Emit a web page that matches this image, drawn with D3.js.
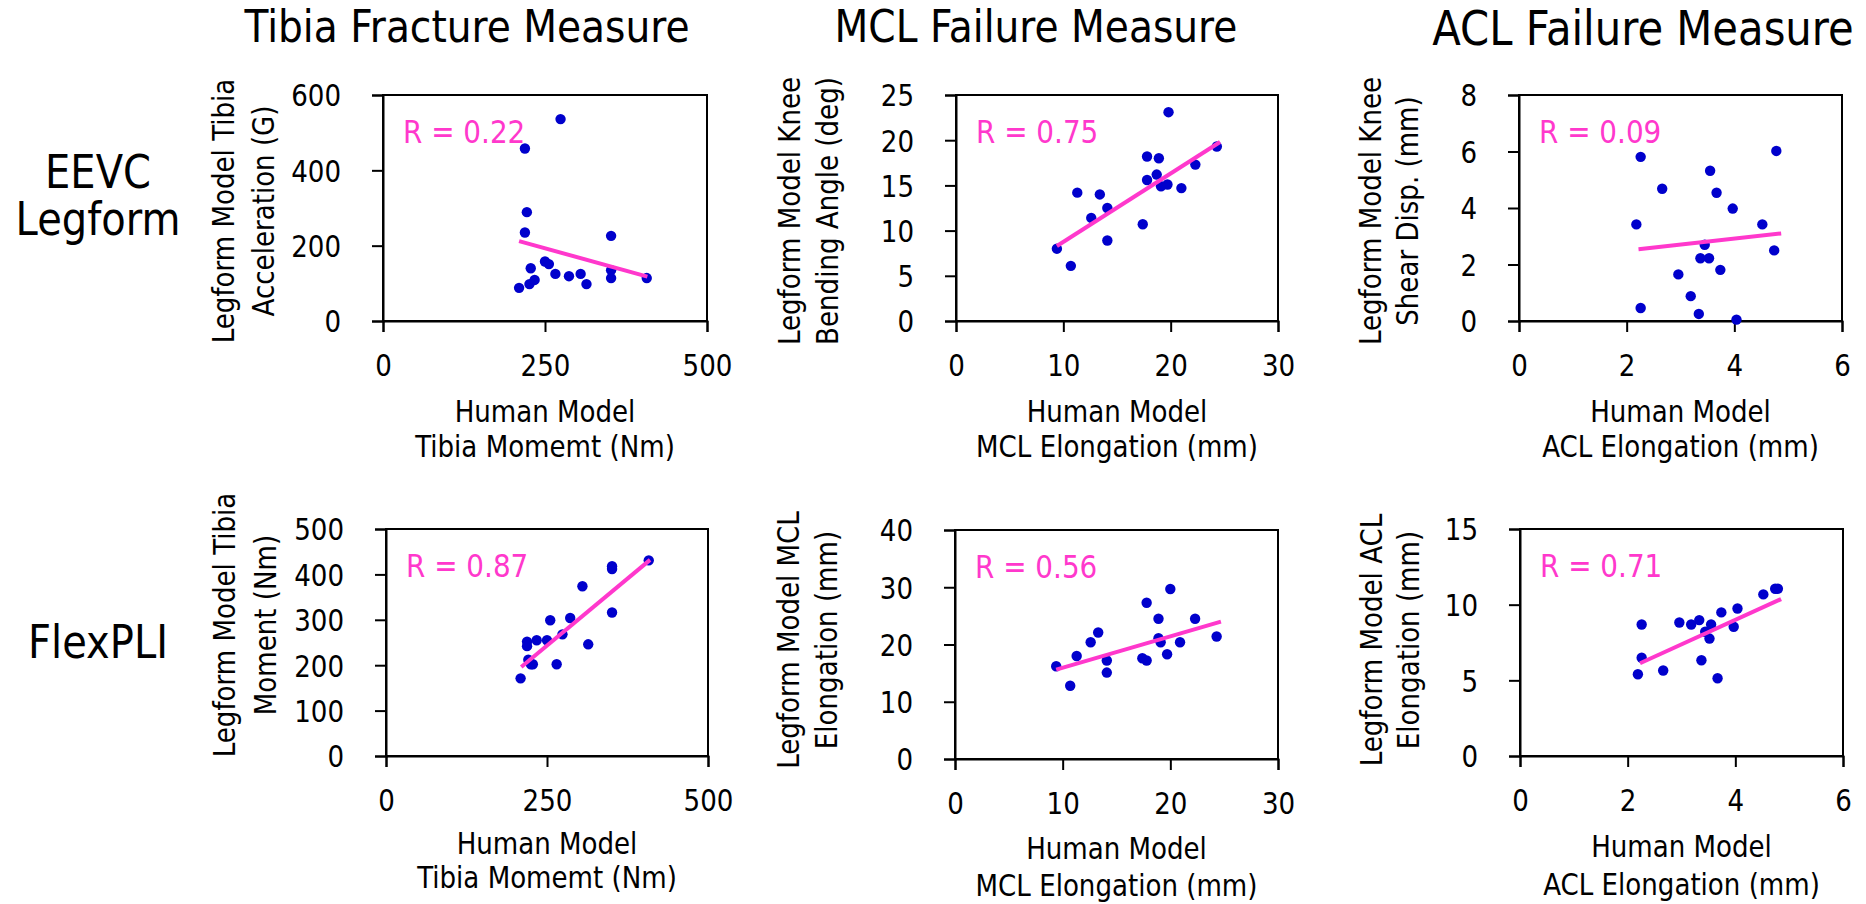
<!DOCTYPE html>
<html>
<head>
<meta charset="utf-8">
<script src="https://cdn.jsdelivr.net/npm/d3@7"></script>
<style>
  body { margin: 0; background: #fff; }
  text { font-family: "DejaVu Sans", Verdana, sans-serif; }
</style>
</head>
<body>
<svg id="chart" width="1866" height="904"></svg>
<script>
// column / row headings
const colTitles = ['Tibia Fracture Measure', 'MCL Failure Measure', 'ACL Failure Measure'];
const rowTitles = [['EEVC', 'Legform'], ['FlexPLI']];

// tibia: EEVC legform
const tibiaEevcX = [274, 219, 222, 219, 352, 250, 256, 228, 266, 287, 305, 314, 352, 352, 407, 234, 226, 210];
const tibiaEevcY = [536, 458, 289, 235, 226, 158, 151, 140, 125, 119, 125, 98, 135, 114, 114, 109, 98, 88];
const tibiaEevcFit = [210, 212, 408, 118];

// tibia: FlexPLI
const tibiaFlexX = [408, 351, 351, 305, 351, 255, 286, 274, 234, 250, 219, 219, 314, 221, 228, 265, 209, 225];
const tibiaFlexY = [431, 418, 412, 374, 316, 299, 304, 268, 255, 255, 252, 242, 246, 212, 202, 202, 171, 202];
const tibiaFlexFit = [210, 196, 410, 432];

// MCL: EEVC legform
const mclEevcX = [19.8, 24.3, 17.8, 18.9, 22.3, 18.7, 17.8, 19.1, 19.7, 21.0, 11.3, 13.4, 14.1, 12.6, 17.4, 14.1, 9.4, 10.7];
const mclEevcY = [23.1, 19.3, 18.2, 18.0, 17.3, 16.2, 15.6, 14.9, 15.1, 14.7, 14.2, 14.0, 12.5, 11.4, 10.7, 8.9, 8.0, 6.1];
const mclEevcFit = [9.4, 8.3, 24.6, 19.8];

// MCL: FlexPLI
const mclFlexX = [20.0, 17.8, 18.9, 22.3, 13.3, 12.6, 18.9, 19.1, 20.9, 24.3, 19.7, 11.3, 14.1, 17.4, 17.8, 9.4, 14.1, 10.7];
const mclFlexY = [29.7, 27.3, 24.5, 24.5, 22.1, 20.4, 21.1, 20.4, 20.4, 21.4, 18.3, 18.0, 17.2, 17.6, 17.2, 16.2, 15.1, 12.8];
const mclFlexFit = [9.4, 15.6, 24.7, 24.0];

// ACL: EEVC legform
const aclEevcX = [4.78, 2.26, 3.55, 2.66, 3.67, 3.97, 2.18, 4.52, 4.74, 3.45, 3.37, 3.53, 3.74, 2.96, 3.19, 2.26, 3.34, 4.04];
const aclEevcY = [6.02, 5.81, 5.32, 4.68, 4.54, 3.98, 3.42, 3.42, 2.50, 2.70, 2.22, 2.22, 1.81, 1.65, 0.88, 0.46, 0.25, 0.05];
const aclEevcFit = [2.22, 2.54, 4.87, 3.10];

// ACL: FlexPLI
const aclFlexX = [4.74, 4.79, 4.52, 4.04, 3.74, 3.33, 2.96, 3.18, 3.55, 2.26, 3.97, 3.44, 3.52, 2.26, 3.37, 2.66, 2.19, 3.67];
const aclFlexY = [11.05, 11.05, 10.68, 9.75, 9.49, 8.98, 8.82, 8.69, 8.69, 8.69, 8.54, 8.21, 7.76, 6.49, 6.33, 5.65, 5.40, 5.14];
const aclFlexFit = [2.23, 6.13, 4.85, 10.37];

// correlation labels
const rLabels = ['R = 0.22', 'R = 0.75', 'R = 0.09', 'R = 0.87', 'R = 0.56', 'R = 0.71'];

// axis ticks
const tibiaTicks = [0, 250, 500];
const mclTicks = [0, 10, 20, 30];
const aclTicks = [0, 2, 4, 6];

const xLabels = [
  ['Human Model', 'Tibia Momemt (Nm)'],
  ['Human Model', 'MCL Elongation (mm)'],
  ['Human Model', 'ACL Elongation (mm)']
];

const PINK = '#ff38cc';
const BLUE = '#0000cc';
const SX = 0.87; // squeeze DejaVu towards the narrower original face

const svg = d3.select('#chart');

const panels = [
  { xs: tibiaEevcX, ys: tibiaEevcY, fit: tibiaEevcFit, r: rLabels[0], xDomain: [0, 500], xTicks: tibiaTicks,
    yDomain: [0, 600], yTicks: [0, 200, 400, 600], yLabel: ['Legform Model Tibia', 'Acceleration (G)'], xLabel: xLabels[0],
    left: 383, right: 707, top: 95, bottom: 321, yl1: 149, yl2: 109, ylc: 211, xl0: 101, xl: 35 },
  { xs: mclEevcX, ys: mclEevcY, fit: mclEevcFit, r: rLabels[1], xDomain: [0, 30], xTicks: mclTicks,
    yDomain: [0, 25], yTicks: [0, 5, 10, 15, 20, 25], yLabel: ['Legform Model Knee', 'Bending Angle (deg)'], xLabel: xLabels[1],
    left: 956, right: 1278, top: 95, bottom: 321, yl1: 156, yl2: 118, ylc: 211, xl0: 101, xl: 35 },
  { xs: aclEevcX, ys: aclEevcY, fit: aclEevcFit, r: rLabels[2], xDomain: [0, 6], xTicks: aclTicks,
    yDomain: [0, 8], yTicks: [0, 2, 4, 6, 8], yLabel: ['Legform Model Knee', 'Shear Disp. (mm)'], xLabel: xLabels[2],
    left: 1519, right: 1842, top: 95, bottom: 321, yl1: 138, yl2: 101, ylc: 211, xl0: 101, xl: 35 },
  { xs: tibiaFlexX, ys: tibiaFlexY, fit: tibiaFlexFit, r: rLabels[3], xDomain: [0, 500], xTicks: tibiaTicks,
    yDomain: [0, 500], yTicks: [0, 100, 200, 300, 400, 500], yLabel: ['Legform Model Tibia', 'Moment (Nm)'], xLabel: xLabels[0],
    left: 386, right: 708, top: 529, bottom: 756, yl1: 151, yl2: 110, ylc: 625, xl0: 98, xl: 34 },
  { xs: mclFlexX, ys: mclFlexY, fit: mclFlexFit, r: rLabels[4], xDomain: [0, 30], xTicks: mclTicks,
    yDomain: [0, 40], yTicks: [0, 10, 20, 30, 40], yLabel: ['Legform Model MCL', 'Elongation (mm)'], xLabel: xLabels[1],
    left: 955, right: 1278, top: 530, bottom: 759, yl1: 156, yl2: 118, ylc: 640, xl0: 100, xl: 37 },
  { xs: aclFlexX, ys: aclFlexY, fit: aclFlexFit, r: rLabels[5], xDomain: [0, 6], xTicks: aclTicks,
    yDomain: [0, 15], yTicks: [0, 5, 10, 15], yLabel: ['Legform Model ACL', 'Elongation (mm)'], xLabel: xLabels[2],
    left: 1520, right: 1843, top: 529, bottom: 756, yl1: 138, yl2: 101, ylc: 640, xl0: 101, xl: 38 }
];

// text helper: squeezed horizontally, optional rotation
function label(parent, x, y, str, size, opts = {}) {
  return parent.append('text')
    .attr('transform', `translate(${x},${y}) rotate(${opts.rotate || 0}) scale(${SX},1)`)
    .attr('text-anchor', opts.anchor || 'start')
    .attr('font-size', size)
    .attr('fill', opts.fill || '#000')
    .text(str);
}

function drawPanel(p) {
  const g = svg.append('g');
  const x = d3.scaleLinear().domain(p.xDomain).range([p.left, p.right]);
  const y = d3.scaleLinear().domain(p.yDomain).range([p.bottom, p.top]);

  // plot frame
  g.append('rect')
    .attr('x', p.left).attr('y', p.top)
    .attr('width', p.right - p.left).attr('height', p.bottom - p.top)
    .attr('fill', 'none').attr('stroke', '#000').attr('stroke-width', 2);

  const xAxis = g.append('g')
    .attr('transform', `translate(0,${p.bottom})`)
    .call(d3.axisBottom(x).tickValues(p.xTicks).tickFormat(d3.format('d')).tickSizeOuter(0).tickSize(11));
  xAxis.selectAll('text').attr('y', 55).attr('dy', null)
    .attr('transform', `scale(${SX},1)`)
    .attr('font-size', 30).attr('font-family', null).attr('fill', '#000');

  const yAxis = g.append('g')
    .attr('transform', `translate(${p.left},0)`)
    .call(d3.axisLeft(y).tickValues(p.yTicks).tickFormat(d3.format('d')).tickSizeOuter(0).tickSize(11));
  yAxis.selectAll('text').attr('x', -42 / SX).attr('dy', '0.36em')
    .attr('transform', `scale(${SX},1)`)
    .attr('font-size', 30).attr('font-family', null).attr('fill', '#000');

  g.selectAll('.domain, .tick line').attr('stroke', '#000').attr('stroke-width', 2);

  // points
  g.append('g').selectAll('circle')
    .data(p.xs.map((v, i) => [v, p.ys[i]]))
    .join('circle')
    .attr('cx', d => x(d[0]))
    .attr('cy', d => y(d[1]))
    .attr('r', 5.2)
    .attr('fill', BLUE);

  // trend line
  g.append('line')
    .attr('x1', x(p.fit[0])).attr('y1', y(p.fit[1]))
    .attr('x2', x(p.fit[2])).attr('y2', y(p.fit[3]))
    .attr('stroke', PINK).attr('stroke-width', 4);

  label(g, p.left + 20, p.top + 48, p.r, 32, { fill: PINK });

  // x axis title
  p.xLabel.forEach((s, i) => {
    label(g, (p.left + p.right) / 2, p.bottom + p.xl0 + i * p.xl, s, 30, { anchor: 'middle' });
  });

  // y axis title (rotated, two lines)
  [p.yl1, p.yl2].forEach((off, i) => {
    label(g, p.left - off, p.ylc, p.yLabel[i], 30, { anchor: 'middle', rotate: -90 });
  });
}

panels.forEach(drawPanel);

// column titles
const titleX = [467, 1036, 1643];
const titleSize = [45, 45, 48];
const titleY = [42, 42, 45];
colTitles.forEach((s, i) => label(svg, titleX[i], titleY[i], s, titleSize[i], { anchor: 'middle' }));

// row titles
const rowY = [[188, 235], [658]];
rowTitles.forEach((lines, r) => {
  lines.forEach((s, i) => label(svg, 98, rowY[r][i], s, 46, { anchor: 'middle' }));
});
</script>
</body>
</html>
